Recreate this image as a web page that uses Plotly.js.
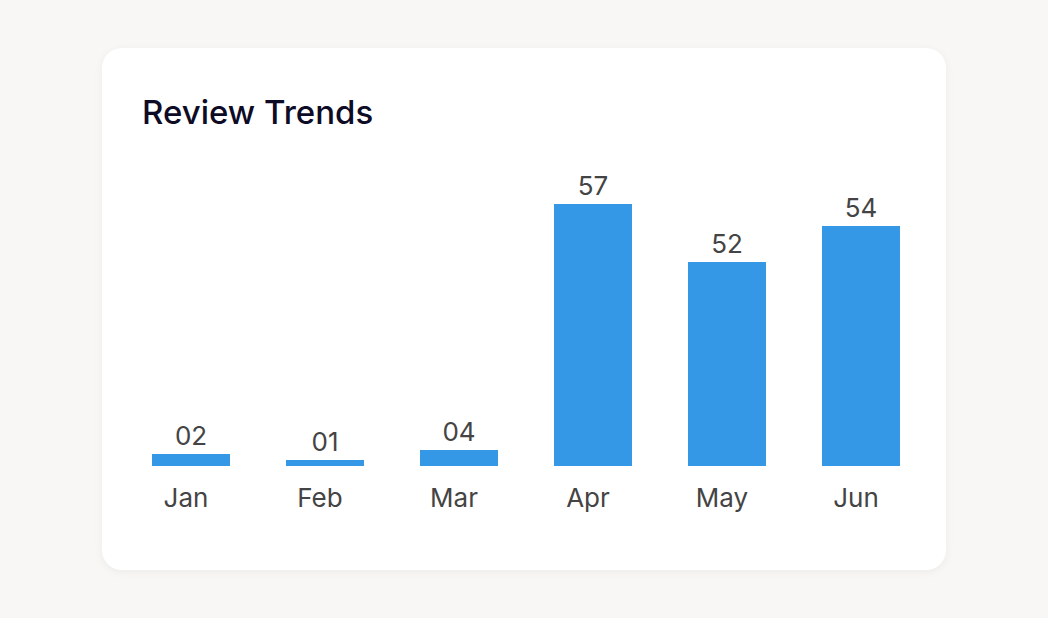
<!DOCTYPE html>
<html>
<head>
<meta charset="utf-8">
<script src="https://cdn.plot.ly/plotly-3.0.1.min.js"></script>
<style>
  html, body { margin: 0; padding: 0; background: #f8f7f5; }
  body { width: 1048px; height: 618px; position: relative; overflow: hidden; }
  .card {
    position: absolute; left: 102px; top: 48px; width: 844px; height: 522px;
    background: #ffffff; border-radius: 20px;
    box-shadow: 0 2px 10px rgba(0,0,0,0.05);
  }
  #chart { width: 844px; height: 522px; }
</style>
</head>
<body>
<div class="card"><div id="chart"></div></div>
<script>
// months along the x axis
const months = ["Jan", "Feb", "Mar", "Apr", "May", "Jun"];
// text printed above each bar
const valueLabels = ["02", "01", "04", "57", "52", "54"];
// bar lengths as drawn (Apr = 57)
const barHeights = [2.6, 1.3, 3.5, 57, 44.4, 52.2];

const data = [{
    type: "bar",
    x: months,
    y: barHeights,
    text: valueLabels,
    textposition: "outside",
    textfont: {family: "Inter, sans-serif", size: 26, color: "#444444"},
    cliponaxis: false,
    marker: {color: "#3498e6"},
    hoverinfo: "none"
}];

const layout = {
    width: 844,
    height: 522,
    paper_bgcolor: "rgba(0,0,0,0)",
    plot_bgcolor: "rgba(0,0,0,0)",
    font: {family: "Inter, sans-serif"},
    title: {
        text: "Review Trends",
        font: {family: "Inter, sans-serif", size: 33, color: "#0d0b26", weight: 500},
        x: 40 / 844, xref: "container", xanchor: "left",
        y: 1 - 64 / 522, yref: "container", yanchor: "middle"
    },
    margin: {l: 22, r: 18, t: 100, b: 104},
    bargap: 0.418,
    showlegend: false,
    xaxis: {
        showgrid: false, zeroline: false, showline: false,
        ticks: "outside", ticklen: 9, tickcolor: "rgba(0,0,0,0)",
        ticklabelshift: -5,
        tickfont: {family: "Inter, sans-serif", size: 26, color: "#444444"},
        fixedrange: true
    },
    yaxis: {
        range: [0, 69.2],
        visible: false,
        fixedrange: true
    }
};

Plotly.newPlot("chart", data, layout, {displayModeBar: false, staticPlot: true});
</script>
</body>
</html>
